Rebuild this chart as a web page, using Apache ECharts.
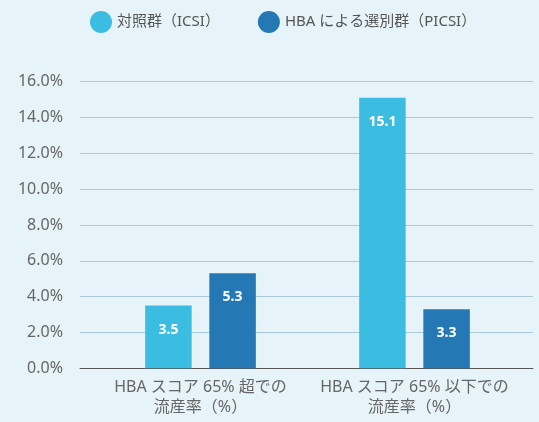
<!DOCTYPE html>
<html>
<head>
<meta charset="utf-8">
<script src="https://cdn.jsdelivr.net/npm/echarts@6/dist/echarts.min.js"></script>
<style>
html,body{margin:0;padding:0;background:#e6f3f8;}
#c{width:539px;height:422px;}
</style>
</head>
<body>
<div id="c"></div>
<script>
const categories = ['HBA スコア 65% 超での\n流産率（%）', 'HBA スコア 65% 以下での\n流産率（%）'];
const seriesNames = ['対照群（ICSI）', 'HBA による選別群（PICSI）'];
const icsiValues = [3.5, 15.1];
const picsiValues = [5.3, 3.3];
const yTicks = [0, 2, 4, 6, 8, 10, 12, 14, 16];

const font = '"Noto Sans", "Noto Sans CJK JP", sans-serif';
const chart = echarts.init(document.getElementById('c'));
const labelOpt = {
  show: true, position: 'insideTop', distance: 17,
  color: '#ffffff', fontWeight: 'bold', fontSize: 14, fontFamily: font,
  formatter: p => p.value.toFixed(1)
};
chart.setOption({
  backgroundColor: '#e6f3f8',
  animation: false,
  legend: {
    left: 85, top: 6,
    itemWidth: 22, itemHeight: 22, itemGap: 38, icon: 'circle',
    textStyle: { color: '#555', fontSize: 15, fontFamily: font },
    data: seriesNames
  },
  grid: [
    { left: 80, right: 6, top: 81.7, bottom: 53.7 },
    { left: 93.5, right: 17.5, top: 81.7, bottom: 53.7 }
  ],
  xAxis: [
    { type: 'category', gridIndex: 0, data: categories,
      axisLine: { lineStyle: { color: '#555', width: 1 } },
      axisTick: { show: false }, axisLabel: { show: false } },
    { type: 'category', gridIndex: 1, data: categories,
      axisLine: { show: false }, axisTick: { show: false },
      axisLabel: { interval: 0, color: '#666', fontSize: 16, fontFamily: font, lineHeight: 20, margin: 9 } }
  ],
  yAxis: [
    { type: 'value', gridIndex: 0, min: yTicks[0], max: yTicks[yTicks.length - 1], interval: 2,
      axisLine: { show: false }, axisTick: { show: false },
      axisLabel: { color: '#666', fontSize: 16, fontFamily: font, margin: 17,
        formatter: v => v.toFixed(1) + '%' },
      splitLine: { lineStyle: { color: '#aac9da', width: 1 } } },
    { type: 'value', gridIndex: 1, min: yTicks[0], max: yTicks[yTicks.length - 1], interval: 2,
      show: false, splitLine: { show: false } }
  ],
  series: [
    { name: seriesNames[0], type: 'bar', xAxisIndex: 1, yAxisIndex: 1, data: icsiValues,
      barWidth: 46.5, barGap: '38%', itemStyle: { color: '#3bbde2' }, label: labelOpt },
    { name: seriesNames[1], type: 'bar', xAxisIndex: 1, yAxisIndex: 1, data: picsiValues,
      barWidth: 46.5, barGap: '38%', itemStyle: { color: '#2479b4' }, label: labelOpt }
  ]
});
</script>
</body>
</html>
